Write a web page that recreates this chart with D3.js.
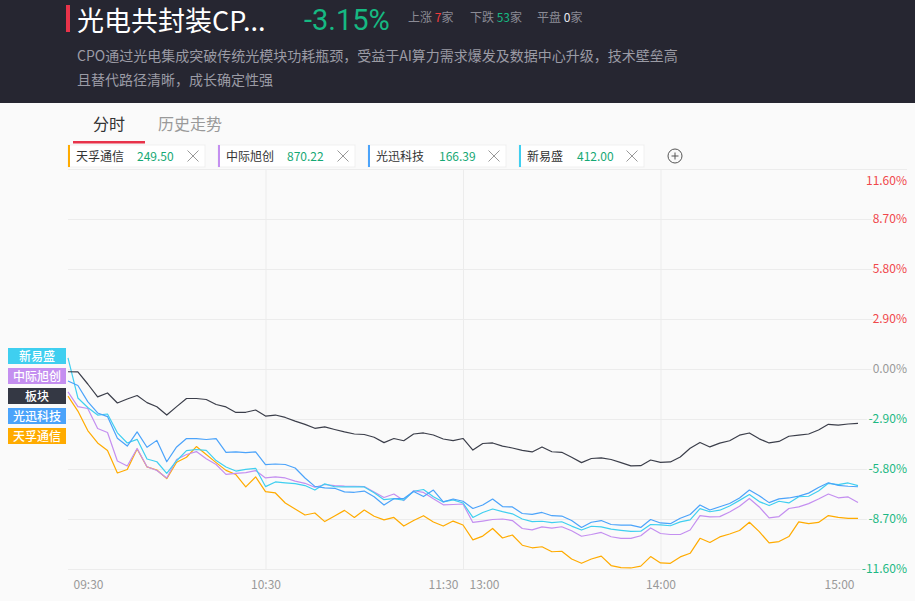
<!DOCTYPE html>
<html>
<head>
<meta charset="utf-8">
<script src="https://cdn.jsdelivr.net/npm/d3@7"></script>
<style>
body { margin: 0; background: #fafafa; font-family: "Noto Sans CJK SC", "Noto Sans", sans-serif; }
svg { display: block; }
</style>
</head>
<body>
<div id="chart"></div>
<script>
// time axis, every 3 minutes of the trading day
const times = [
  "09:30","09:33","09:36","09:39","09:42","09:45","09:48","09:51","09:54","09:57",
  "10:00","10:03","10:06","10:09","10:12","10:15","10:18","10:21","10:24","10:27",
  "10:30","10:33","10:36","10:39","10:42","10:45","10:48","10:51","10:54","10:57",
  "11:00","11:03","11:06","11:09","11:12","11:15","11:18","11:21","11:24","11:27",
  "11:30","13:03","13:06","13:09","13:12","13:15","13:18","13:21","13:24","13:27",
  "13:30","13:33","13:36","13:39","13:42","13:45","13:48","13:51","13:54","13:57",
  "14:00","14:03","14:06","14:09","14:12","14:15","14:18","14:21","14:24","14:27",
  "14:30","14:33","14:36","14:39","14:42","14:45","14:48","14:51","14:54","14:57",
  "15:00"
];

// percent change
const bankuai = [
  -0.16,-0.17,-0.87,-1.62,-1.39,-1.97,-1.74,-1.54,-1.95,-2.19,
  -2.67,-2.18,-1.71,-1.71,-1.77,-2.06,-2.20,-2.52,-2.51,-2.38,
  -2.73,-2.67,-2.81,-3.02,-3.21,-3.44,-3.36,-3.51,-3.65,-3.77,
  -3.80,-3.96,-4.27,-4.03,-4.16,-3.77,-3.71,-3.83,-4.06,-4.15,
  -4.03,-4.70,-4.32,-4.29,-4.47,-4.58,-4.72,-4.81,-4.52,-4.80,
  -4.83,-5.12,-5.43,-5.19,-5.16,-5.25,-5.43,-5.62,-5.61,-5.28,
  -5.42,-5.39,-5.10,-4.60,-4.26,-4.52,-4.30,-4.16,-3.84,-3.71,
  -4.05,-4.29,-4.20,-3.90,-3.83,-3.77,-3.54,-3.21,-3.25,-3.19,
  -3.15
];
const tianfu = [
  -1.57,-2.44,-3.57,-4.29,-4.73,-6.03,-5.83,-4.64,-5.68,-5.86,
  -6.36,-5.41,-5.12,-4.50,-4.96,-5.43,-5.88,-6.12,-6.84,-6.26,
  -7.11,-7.19,-7.77,-8.12,-8.47,-8.35,-8.85,-8.53,-8.20,-8.61,
  -8.18,-8.54,-8.75,-8.61,-9.11,-8.79,-8.51,-8.87,-9.11,-8.82,
  -9.05,-9.91,-9.69,-9.25,-9.80,-9.63,-10.22,-10.37,-10.31,-10.60,
  -10.57,-11.02,-11.27,-11.02,-10.85,-11.40,-11.52,-11.54,-11.43,-10.88,
  -11.25,-11.27,-10.90,-10.69,-9.82,-10.06,-9.74,-9.57,-9.37,-8.89,
  -9.43,-10.09,-10.01,-9.72,-8.87,-8.97,-8.90,-8.50,-8.61,-8.66,
  -8.66
];
const guangxun = [
  -0.70,-0.96,-1.89,-2.55,-2.76,-4.02,-4.47,-3.65,-4.54,-4.14,
  -5.38,-4.52,-4.03,-4.04,-4.09,-4.04,-4.83,-4.81,-4.85,-4.81,
  -5.55,-5.51,-5.54,-5.74,-6.32,-6.81,-6.90,-6.92,-7.13,-7.15,
  -7.08,-7.41,-7.89,-7.52,-7.51,-7.11,-7.40,-7.02,-7.71,-7.54,
  -7.67,-8.09,-7.89,-7.54,-7.98,-8.00,-8.38,-8.43,-8.32,-8.51,
  -8.53,-8.79,-9.19,-8.89,-8.79,-9.02,-9.05,-9.06,-9.19,-8.73,
  -8.93,-8.97,-8.66,-8.44,-7.89,-8.18,-7.99,-7.80,-7.48,-7.02,
  -7.35,-7.75,-7.53,-7.48,-7.37,-7.20,-6.87,-6.60,-6.75,-6.80,
  -6.83
];
const xinyisheng = [
  0.64,-1.68,-2.23,-2.67,-2.61,-3.70,-4.29,-4.08,-5.22,-5.38,
  -6.05,-5.32,-4.73,-4.67,-4.72,-5.31,-5.68,-5.92,-5.82,-5.76,
  -6.82,-6.55,-6.60,-6.65,-6.76,-7.02,-6.66,-6.83,-6.84,-6.83,
  -6.84,-7.18,-7.58,-7.52,-7.60,-7.09,-6.99,-7.41,-7.71,-7.59,
  -7.77,-8.61,-8.32,-8.12,-8.27,-8.40,-8.70,-8.85,-8.83,-8.91,
  -8.86,-9.11,-9.34,-9.12,-9.16,-9.29,-9.36,-9.42,-9.41,-9.02,
  -9.04,-9.09,-8.87,-8.75,-8.10,-8.28,-8.19,-7.95,-7.62,-7.28,
  -7.69,-7.92,-7.67,-7.77,-7.41,-7.38,-7.08,-6.63,-6.71,-6.61,
  -6.76
];
const zhongji = [
  -1.33,-2.18,-2.29,-3.45,-3.68,-5.34,-5.63,-4.61,-5.67,-5.89,
  -6.32,-5.25,-4.96,-4.79,-5.21,-5.54,-6.11,-6.05,-6.01,-5.89,
  -6.32,-6.26,-6.32,-6.50,-6.63,-6.86,-6.70,-6.76,-6.79,-6.80,
  -6.82,-7.13,-7.45,-7.25,-7.63,-7.06,-7.16,-7.53,-7.88,-7.86,
  -7.83,-8.90,-8.82,-8.73,-8.70,-8.79,-9.25,-9.33,-9.16,-9.23,
  -9.15,-9.38,-9.70,-9.60,-9.48,-9.73,-9.82,-9.82,-9.67,-9.22,
  -9.54,-9.60,-9.60,-9.34,-8.50,-8.58,-8.56,-8.29,-7.96,-7.51,
  -8.00,-8.64,-8.56,-8.09,-8.00,-7.81,-7.54,-7.25,-7.47,-7.42,
  -7.74
];

const stockNames = ["天孚通信", "中际旭创", "光迅科技", "新易盛"];
const stockPrices = ["249.50", "870.22", "166.39", "412.00"];
const stockColors = ["#ffab00", "#c48ff0", "#4ba3fa", "#3fcff0"];
const boardColor = "#3b3e4a";
const tagOrder = ["新易盛", "中际旭创", "板块", "光迅科技", "天孚通信"];
const yTicks = [11.6, 8.7, 5.8, 2.9, 0, -2.9, -5.8, -8.7, -11.6];
const xTicks = ["09:30", "10:30", "11:30", "14:00", "15:00"];

function toMinute(s) {
  const p = s.split(":").map(Number);
  const v = p[0] * 60 + p[1];
  return v <= 690 ? v - 570 : v - 780 + 120;
}

const W = 915, H = 601;
const svg = d3.select("#chart").append("svg").attr("width", W).attr("height", H);
const font = '"Noto Sans CJK SC", "Noto Sans", sans-serif';

// header
svg.append("rect").attr("width", W).attr("height", 103).attr("fill", "#262631");
svg.append("rect").attr("x", 66).attr("y", 5).attr("width", 4).attr("height", 27).attr("fill", "#e8334a");
svg.append("text").attr("x", 77).attr("y", 31).attr("fill", "#fff")
  .style("font-size", "27px").style("font-family", font).text("光电共封装CP...");
svg.append("text").attr("x", 304).attr("y", 29.5).attr("fill", "#16b982")
  .style("font-size", "29px").style("font-family", "Roboto, sans-serif").text("-3.15%");

const stats = [["上涨 ", "7", "#f23b3b", 408], ["下跌 ", "53", "#16b982", 470], ["平盘 ", "0", "#e8e8f0", 537]];
stats.forEach(s => {
  const t = svg.append("text").attr("x", s[3]).attr("y", 22).attr("fill", "#8b8b95")
    .style("font-size", "12px").style("font-family", font);
  t.append("tspan").text(s[0]);
  t.append("tspan").attr("fill", s[2]).text(s[1]);
  t.append("tspan").text("家");
});

svg.append("text").attr("x", 77).attr("y", 61).attr("fill", "#9b9ba5")
  .style("font-size", "14px").style("font-family", font)
  .text("CPO通过光电集成突破传统光模块功耗瓶颈，受益于AI算力需求爆发及数据中心升级，技术壁垒高");
svg.append("text").attr("x", 77).attr("y", 85).attr("fill", "#9b9ba5")
  .style("font-size", "14px").style("font-family", font)
  .text("且替代路径清晰，成长确定性强");

// tabs
svg.append("text").attr("x", 93).attr("y", 130).attr("fill", "#333")
  .style("font-size", "16px").style("font-family", font).text("分时");
svg.append("text").attr("x", 158).attr("y", 130).attr("fill", "#999")
  .style("font-size", "16px").style("font-family", font).text("历史走势");
svg.append("rect").attr("x", 73).attr("y", 141).attr("width", 72).attr("height", 2.5).attr("fill", "#e8334a");

// legend boxes
const boxX = [68, 218, 368, 519];
const boxW = [137, 137, 138, 125];
const priceDx = [69, 69, 71, 58];
stockNames.forEach((n, i) => {
  const g = svg.append("g").attr("transform", `translate(${boxX[i]},145)`);
  g.append("rect").attr("width", boxW[i]).attr("height", 22).attr("fill", "#fff")
    .attr("stroke", "#ededed").attr("stroke-width", 0.8);
  g.append("rect").attr("width", 2).attr("height", 22).attr("fill", stockColors[i]);
  g.append("text").attr("x", 8).attr("y", 16).attr("fill", "#333")
    .style("font-size", "12px").style("font-family", font).text(n);
  g.append("text").attr("x", priceDx[i]).attr("y", 16).attr("fill", "#16a874")
    .style("font-size", "12px").style("font-family", font).text(stockPrices[i]);
  const cx = boxW[i] - 12, cy = 11;
  g.append("path").attr("d", `M${cx - 5.5},${cy - 5.5}L${cx + 5.5},${cy + 5.5}M${cx + 5.5},${cy - 5.5}L${cx - 5.5},${cy + 5.5}`)
    .attr("stroke", "#999").attr("stroke-width", 1);
});
svg.append("circle").attr("cx", 675).attr("cy", 156).attr("r", 7)
  .attr("fill", "none").attr("stroke", "#555").attr("stroke-width", 1);
svg.append("path").attr("d", "M671.5,156H678.5M675,152.5V159.5").attr("stroke", "#555").attr("stroke-width", 1);

// scales
const x = d3.scaleLinear().domain([0, 240]).range([68, 858]);
const y = d3.scaleLinear().domain([-11.6, 11.6]).range([569, 169]);

// grid
const gy = svg.append("g").attr("transform", "translate(68,0)")
  .call(d3.axisLeft(y).tickValues(yTicks).tickSize(-839).tickFormat(""));
gy.select(".domain").remove();
gy.selectAll("line").attr("stroke", "#ececec");

const gx = svg.append("g").attr("transform", "translate(0,569)")
  .call(d3.axisBottom(x).tickValues([60, 120, 180]).tickSize(-400).tickFormat(""));
gx.select(".domain").remove();
gx.selectAll("line").attr("stroke", "#ececec");

// y labels
const ya = svg.append("g").attr("transform", "translate(907,0)")
  .call(d3.axisRight(y).tickValues(yTicks).tickSize(0).tickFormat(d => d.toFixed(2) + "%"));
ya.select(".domain").remove();
ya.selectAll("text")
  .attr("x", 0).attr("text-anchor", "end")
  .attr("dy", d => d === 11.6 ? "1.25em" : "0.32em")
  .attr("fill", d => d > 0 ? "#f0474b" : d < 0 ? "#1cb883" : "#999")
  .style("font-size", "12px").style("font-family", font)
  .attr("stroke", "#fafafa").attr("stroke-width", 4).attr("paint-order", "stroke");

// x labels
const xa = svg.append("g").attr("transform", "translate(0,569)")
  .call(d3.axisBottom(x).tickValues(xTicks.map(toMinute)).tickSize(0).tickPadding(11)
    .tickFormat((d, i) => xTicks[i]));
xa.select(".domain").remove();
xa.selectAll("text").attr("fill", "#999").style("font-size", "12px").style("font-family", font)
  .attr("text-anchor", d => d === 0 ? "start" : d === 240 ? "end" : d === 120 ? "end" : "middle")
  .attr("dx", d => d === 0 ? 5 : d === 240 ? -4 : d === 120 ? -5 : 0);
xa.selectAll(".tick").filter(d => d === 120).append("text")
  .attr("y", 11).attr("dy", "0.71em").attr("dx", 6).attr("text-anchor", "start")
  .attr("fill", "#999").style("font-size", "12px").style("font-family", font).text("13:00");

// lines
const line = d3.line().x(d => x(d.t)).y(d => y(d.v));
const series = [
  { vals: tianfu, color: stockColors[0] },
  { vals: zhongji, color: stockColors[1] },
  { vals: xinyisheng, color: stockColors[3] },
  { vals: guangxun, color: stockColors[2] },
  { vals: bankuai, color: boardColor }
];
series.forEach(s => {
  svg.append("path")
    .datum(times.map((t, i) => ({ t: toMinute(t), v: s.vals[i] })))
    .attr("fill", "none").attr("stroke", s.color).attr("stroke-width", 1.2)
    .attr("stroke-linejoin", "round").attr("d", line);
});

// left tags
const tagColor = { "新易盛": stockColors[3], "中际旭创": stockColors[1], "板块": "#343844", "光迅科技": stockColors[2], "天孚通信": stockColors[0] };
tagOrder.forEach((n, i) => {
  const g = svg.append("g").attr("transform", `translate(8,${348 + i * 20})`);
  g.append("rect").attr("width", 58).attr("height", 16).attr("fill", tagColor[n]);
  g.append("text").attr("x", 29).attr("y", 12.5).attr("text-anchor", "middle").attr("fill", "#fff")
    .style("font-size", "12px").style("font-family", font).style("font-weight", 500).text(n);
});
</script>
</body>
</html>
